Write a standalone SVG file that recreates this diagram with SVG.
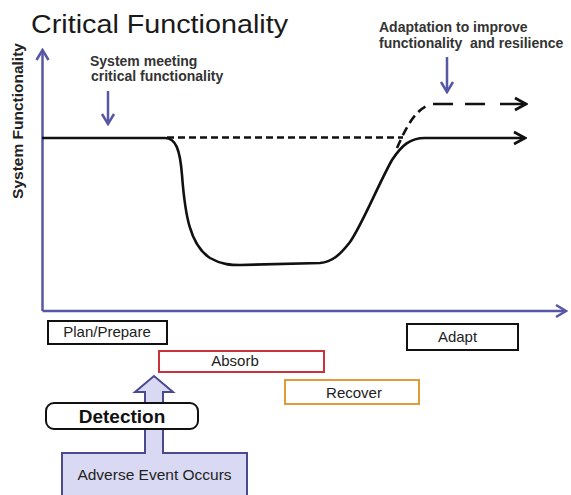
<svg xmlns="http://www.w3.org/2000/svg" width="571" height="495" viewBox="0 0 571 495">
<style>
text{font-family:"Liberation Sans",Arial,sans-serif;fill:#222}
.axis{stroke:#5757a6;stroke-width:2.5;fill:none}
.ln{stroke:#111;stroke-width:2.6;fill:none;stroke-linecap:butt}
.box{fill:#fff;stroke-width:2}
.lbl{font-size:15px;text-anchor:middle}
.note{font-size:14px;font-weight:bold;fill:#333}
</style>
<defs>
<marker id="blk" markerUnits="userSpaceOnUse" markerWidth="16" markerHeight="16" viewBox="-14 -8 16 16" refX="0" refY="0" orient="auto">
<path d="M-11,-6 L0,0 L-11,6" fill="none" stroke="#111" stroke-width="2.6"/>
</marker>
<marker id="blu" markerUnits="userSpaceOnUse" markerWidth="16" markerHeight="16" viewBox="-14 -8 16 16" refX="0" refY="0" orient="auto">
<path d="M-10,-6 L0,0 L-10,6" fill="none" stroke="#5757a6" stroke-width="2.5"/>
</marker>
</defs>
<rect width="571" height="495" fill="#fff"/>
<text x="31" y="33" font-size="26" textLength="257" lengthAdjust="spacingAndGlyphs" fill="#1a1a1a" style="fill:#1a1a1a">Critical Functionality</text>
<text transform="translate(23,121) rotate(-90)" font-size="15.5" font-weight="bold" text-anchor="middle">System Functionality</text>
<g id="connectors">
<path class="axis" d="M42.5,311 V50" marker-end="url(#blu)"/>
<path class="axis" d="M42.5,311 H566" marker-end="url(#blu)"/>
<path class="axis" d="M108,91 V124" marker-end="url(#blu)"/>
<path class="axis" d="M447,57 V92" marker-end="url(#blu)"/>
<path class="ln" d="M42,138 L165,138 C176,138 180,150 182,175 C185,215 190,245 210,258 C222,265 232,265 240,265 L320,263 C332,262 340,255 350,242 C362,225 378,185 392,160 C402,145 410,138 425,138 L525,138" marker-end="url(#blk)"/>
<path class="ln" d="M167,137.5 H403" stroke-dasharray="7 4"/>
<path class="ln" d="M397,148 C404,132 414,110 429,105" stroke-dasharray="9 5"/>
<path class="ln" d="M433,104 H453 M465,104 H485 M500,104 H526" marker-end="url(#blk)"/>
</g>
<g id="note-critical">
<text class="note" x="90" y="65.5">System meeting</text>
<text class="note" x="91" y="81">critical functionality</text>
</g>
<g id="note-adapt">
<text class="note" x="379" y="32">Adaptation to improve</text>
<text class="note" x="379" y="48" xml:space="preserve">functionality  and resilience</text>
</g>
<g id="plan">
<rect class="box" x="48" y="321" width="119" height="23" stroke="#111"/>
<text class="lbl" x="107" y="337">Plan/Prepare</text>
</g>
<g id="absorb">
<rect class="box" x="159" y="351" width="165" height="21" stroke="#c8323a"/>
<text class="lbl" x="235" y="366">Absorb</text>
</g>
<g id="recover">
<rect class="box" x="285" y="380" width="134" height="24" stroke="#e59a3a"/>
<text class="lbl" x="354" y="398">Recover</text>
</g>
<g id="adapt">
<rect class="box" x="407" y="324" width="111" height="26" stroke="#111"/>
<text class="lbl" x="457.5" y="342">Adapt</text>
</g>
<g id="adverse">
<path d="M62,498 V453 H145 V392 H135 L154,376 L173,392 H163 V453 H247 V498" fill="#d9d9f3" stroke="#4a4a8c" stroke-width="2"/>
<text x="154.5" y="480" font-size="15.5" text-anchor="middle">Adverse Event Occurs</text>
</g>
<g id="detection">
<rect x="46" y="403" width="152" height="26" rx="8" fill="#fff" stroke="#111" stroke-width="2"/>
<text x="122" y="423" font-size="19" font-weight="bold" text-anchor="middle" style="fill:#111">Detection</text>
</g>
</svg>
